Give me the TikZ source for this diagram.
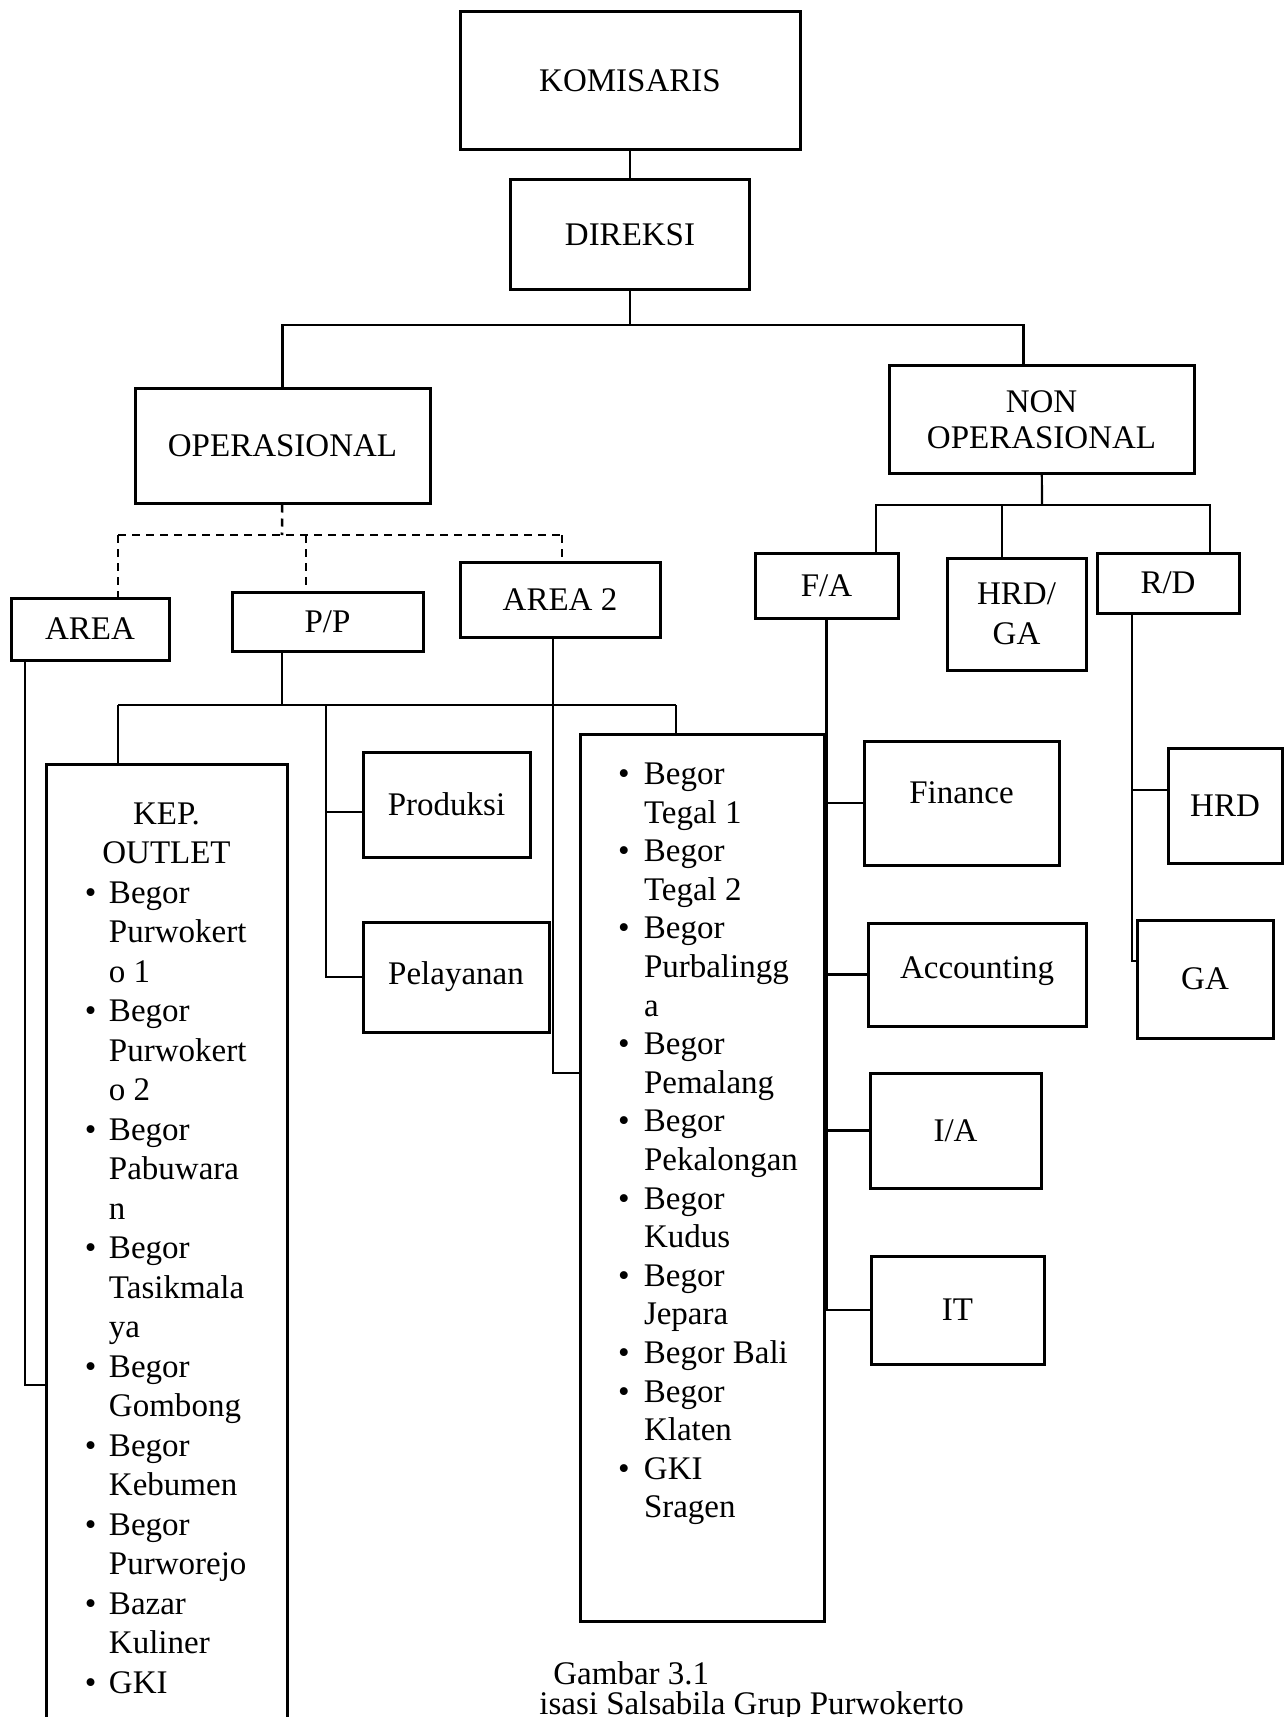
\documentclass[tikz,border=0pt]{standalone}
\usepackage{fontspec}
\setmainfont{Liberation Serif}
\usepackage{array}
\usepackage{tikz}

\begin{document}
\begin{tikzpicture}[x=0.5pt,y=-0.5pt,font=\fontsize{16.5}{20}\selectfont,
  box/.style={draw,line width=1.5pt,inner sep=2pt,align=center},
  con/.style={line width=1.1pt},
  dsh/.style={line width=1.3pt,dash pattern=on 4pt off 3pt}]
\useasboundingbox (0,0) rectangle (1284,1717);
% top of the chart
\node[box,minimum width=170pt,minimum height=69pt] (kom) at (630,81) {KOMISARIS};
\node[box,minimum width=119.5pt,minimum height=55pt] (dir) at (630,235) {DIREKSI};
\node[box,minimum width=147.5pt,minimum height=57.5pt] (ops) at (282.5,445.5) {OPERASIONAL};
\node[box,minimum width=152.5pt,minimum height=53.5pt] (nonop) at (1041.5,419.5) {NON\\[-2pt]OPERASIONAL};
\coordinate (busT) at (630,325);
\draw[con] (kom) -- (dir);
\draw[con] (dir) -- (busT);
\draw[con] (ops.north) |- (busT) -| ([xshift=-9pt]nonop.north);
% operasional side
\node[box,minimum width=79pt,minimum height=31pt] (area) at (90,629) {AREA};
\node[box,minimum width=95.5pt,minimum height=29.5pt] (pp) at (327.5,621.5) {P/P};
\node[box,minimum width=100pt,minimum height=37.5pt] (area2) at (560,599.5) {AREA 2};
\node[box,minimum width=83.5pt,minimum height=52.5pt] (prod) at (446.5,804.5) {Produksi};
\node[box,minimum width=93pt,minimum height=55pt] (pel) at (456,977) {Pelayanan};
\node[box,anchor=north,inner sep=0pt] (kep) at (166.5,763) {\parbox[t][481pt][t]{120.5pt}{%
  \fontsize{16.5}{19.75}\selectfont\vspace*{16pt}%
  \begin{tabular}{@{\hspace{19.5pt}}p{12pt}@{}p{89pt}@{}}
  \multicolumn{2}{@{}c@{}}{KEP.}\\
  \multicolumn{2}{@{}c@{}}{OUTLET}\\
  \textbullet & Begor\\ & Purwokert\\ & o 1\\
  \textbullet & Begor\\ & Purwokert\\ & o 2\\
  \textbullet & Begor\\ & Pabuwara\\ & n\\
  \textbullet & Begor\\ & Tasikmala\\ & ya\\
  \textbullet & Begor\\ & Gombong\\
  \textbullet & Begor\\ & Kebumen\\
  \textbullet & Begor\\ & Purworejo\\
  \textbullet & Bazar\\ & Kuliner\\
  \textbullet & GKI\\
  \end{tabular}}};
\node[box,anchor=north,inner sep=0pt] (cab2) at (702,733) {\parbox[t][443.5pt][t]{122pt}{%
  \fontsize{16.5}{19.3}\selectfont\vspace*{11.5pt}%
  \begin{tabular}{@{\hspace{19pt}}p{13pt}@{}p{90pt}@{}}
  \textbullet & Begor\\ & Tegal 1\\
  \textbullet & Begor\\ & Tegal 2\\
  \textbullet & Begor\\ & Purbalingg\\ & a\\
  \textbullet & Begor\\ & Pemalang\\
  \textbullet & Begor\\ & Pekalongan\\
  \textbullet & Begor\\ & Kudus\\
  \textbullet & Begor\\ & Jepara\\
  \textbullet & Begor Bali\\
  \textbullet & Begor\\ & Klaten\\
  \textbullet & GKI\\ & Sragen\\
  \end{tabular}}};
% dashed lines under operasional
\coordinate (busD) at (282,535);
\coordinate (dA) at (118,535);
\coordinate (dB) at (306,535);
\coordinate (dC) at (562,535);
\draw[dsh] (ops) -- (busD);
\draw[dsh] (dA) -- (dC);
\draw[dsh] (dA) -- (dA |- area.north);
\draw[dsh] (dB) -- (dB |- pp.north);
\draw[dsh] (dC) -- (dC |- area2.north);
% solid lines below the areas
\coordinate (aL) at (25,1385);
\draw[con] (aL |- area.south) -- (aL) -- (aL -| kep.west);
\coordinate (busP) at (282,705);
\coordinate (pL) at (118,705);
\coordinate (pM) at (326,705);
\coordinate (pR) at (676,705);
\draw[con] (busP |- pp.south) -- (busP);
\draw[con] (pL) -- (pR);
\draw[con] (pL) -- (pL |- kep.north);
\draw[con] (pR) -- (pR |- cab2.north);
\draw[con] (pM) |- (pel.west);
\draw[con] (pM |- 0,812) -- (prod.west |- 0,812);
\coordinate (a2L) at (553,1073);
\draw[con] (a2L |- area2.south) -- (a2L) -- (a2L -| cab2.west);
% non operasional side
\node[box,minimum width=71.5pt,minimum height=32.5pt] (fa) at (826.5,585.5) {F/A};
\node[box,minimum width=69.5pt,minimum height=56pt] (hrdga) at (1016.5,614) {HRD/\\GA};
\node[box,minimum width=71pt,minimum height=30pt] (rd) at (1168,583) {R/D};
\node[box,minimum width=97.5pt,minimum height=62pt] (fin) at (961.5,803) {\raisebox{10pt}{Finance}};
\node[box,minimum width=109pt,minimum height=51.5pt] (acc) at (977,974.5) {\raisebox{7pt}{Accounting}};
\node[box,minimum width=85.5pt,minimum height=57.5pt] (ia) at (955.5,1130.5) {I/A};
\node[box,minimum width=86.5pt,minimum height=54pt] (it) at (957.5,1310) {IT};
\node[box,minimum width=57pt,minimum height=57.5pt] (hrd) at (1225,805.5) {HRD};
\node[box,minimum width=68pt,minimum height=59pt] (ga) at (1205,979) {GA};
\coordinate (busN) at (1042,505);
\coordinate (nA) at (876,505);
\coordinate (nB) at (1002,505);
\coordinate (nC) at (1210,505);
\draw[con] (nonop) -- (busN);
\draw[con] (nA |- fa.north) -- (nA) -- (nC) -- (nC |- rd.north);
\draw[con] (nB) -- (nB |- hrdga.north);
\draw[con] (fa.south) -- (fa.south |- it.west) -- (it.west);
\draw[con] (fin.west) -- (fin.west -| fa.south);
\draw[con] (acc.west) -- (acc.west -| fa.south);
\draw[con] (ia.west) -- (ia.west -| fa.south);
\coordinate (rS) at (1132,961);
\draw[con] (rS |- rd.south) -- (rS) -- (rS -| ga.west);
\draw[con] (rS |- 0,790) -- (hrd.west |- 0,790);
% caption
\node[anchor=base west,inner sep=0pt] (cap1) at (553,1684) {Gambar 3.1};
\node[anchor=base west,inner sep=0pt] (cap2) at (539,1714) {isasi Salsabila Grup Purwokerto};
\end{tikzpicture}
\end{document}
